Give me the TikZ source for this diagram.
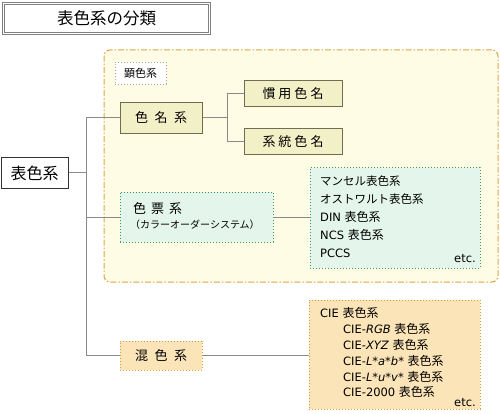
\documentclass[tikz,border=0pt]{standalone}
\usepackage{fontspec}
\setmainfont{DejaVu Sans}
\newfontfamily\jp{Noto Sans CJK JP}
\definecolor{linegray}{HTML}{8A8A8A}
\definecolor{regfill}{HTML}{FEFCE5}
\definecolor{regdraw}{HTML}{D9A648}
\definecolor{cmfill}{HTML}{F2F0C6}
\definecolor{cmdraw}{HTML}{6F6C52}
\definecolor{grfill}{HTML}{E4F5EB}
\definecolor{grdraw}{HTML}{3D9A62}
\definecolor{orfill}{HTML}{FBE4B8}
\definecolor{ordraw}{HTML}{D69E3C}
\newcommand{\jpt}[1]{{\jp\fontsize{12}{13}\selectfont #1}}
\begin{document}
\begin{tikzpicture}[x=1pt,y=-1pt,
  box/.style={rectangle,inner sep=0pt,line width=1pt},
  conn/.style={draw=linegray,line width=1pt},
  txt/.style={inner sep=0pt,font=\fontsize{11.5}{13}\selectfont},
  jtxt/.style={inner sep=0pt,font=\jp\fontsize{11.5}{13}\selectfont}]
\useasboundingbox (0,0) rectangle (500,414);
% title
\node[box,draw=gray,double=white,double distance=1.2pt,line width=1pt,minimum width=206pt,minimum height=30pt,font=\jp\fontsize{16.5}{18}\selectfont] (title) at (106.5,18.5) {表色系の分類};
% region
\node[box,draw=regdraw,fill=regfill,dash pattern=on 6pt off 2pt on 1.5pt off 2pt,rounded corners=6pt,minimum width=394pt,minimum height=232pt] (region) at (301,166) {};
\node[box,draw=gray!70,dotted,fill=white,line width=0.8pt,minimum width=51pt,minimum height=22pt,font=\jp\fontsize{11}{12}\selectfont] (kenshoku) at (140.5,73) {顕色系};
% nodes
\node[box,draw=black!80,fill=white,minimum width=67pt,minimum height=30pt,font=\jp\fontsize{16}{18}\selectfont] (root) at (34.5,173) {表色系};
\node[box,draw=cmdraw,fill=cmfill,minimum width=82pt,minimum height=31pt,font=\jp\fontsize{13}{15}\selectfont] (cm) at (161,118) {色\hspace{6.5pt}名\hspace{6.5pt}系};
\node[box,draw=cmdraw,fill=cmfill,minimum width=98pt,minimum height=26pt,font=\jp\fontsize{13}{15}\selectfont] (kanyo) at (293,94) {慣\hspace{3pt}用\hspace{3pt}色\hspace{3pt}名};
\node[box,draw=cmdraw,fill=cmfill,minimum width=98pt,minimum height=26pt,font=\jp\fontsize{13}{15}\selectfont] (keito) at (293,142) {系\hspace{3pt}統\hspace{3pt}色\hspace{3pt}名};
\node[box,draw=grdraw,dotted,fill=grfill,minimum width=153pt,minimum height=50pt] (shp) at (196.5,217) {};
\node[anchor=west,inner sep=0pt,font=\jp\fontsize{13}{15}\selectfont] (shpa) at (133,209) {色\hspace{5pt}票\hspace{5pt}系};
\node[anchor=west,inner sep=0pt,font=\jp\fontsize{10}{12}\selectfont] (shpb) at (130,225) {（カラーオーダーシステム）};
\node[box,draw=grdraw,dotted,fill=grfill,minimum width=170pt,minimum height=100pt] (glist) at (395,218) {};
\node[box,draw=ordraw,dotted,fill=orfill,minimum width=82pt,minimum height=29pt,font=\jp\fontsize{13}{15}\selectfont] (mix) at (161,355.5) {混\hspace{6.5pt}色\hspace{6.5pt}系};
\node[box,draw=ordraw,dotted,fill=orfill,minimum width=171pt,minimum height=109pt] (clist) at (394.5,354.5) {};
% green list text
\node[jtxt,anchor=west] (g1) at (320,181) {マンセル表色系};
\node[jtxt,anchor=west] (g2) at (320,199) {オストワルト表色系};
\node[txt,anchor=west] (g3) at (320,217) {DIN \jpt{表色系}};
\node[txt,anchor=west] (g4) at (320,235) {NCS \jpt{表色系}};
\node[txt,anchor=west] (g5) at (320,253) {PCCS};
\node[txt,anchor=east] (g6) at (476,259) {etc.};
% CIE list text
\node[txt,anchor=west] (c1) at (320,313) {CIE \jpt{表色系}};
\node[txt,anchor=west] (c2) at (343,329) {CIE-\textit{RGB} \jpt{表色系}};
\node[txt,anchor=west] (c3) at (343,345) {CIE-\textit{XYZ} \jpt{表色系}};
\node[txt,anchor=west] (c4) at (343,361) {CIE-\textit{L*a*b*} \jpt{表色系}};
\node[txt,anchor=west] (c5) at (343,377) {CIE-\textit{L*u*v*} \jpt{表色系}};
\node[txt,anchor=west] (c6) at (343,392) {CIE-2000 \jpt{表色系}};
\node[txt,anchor=east] (c7) at (476,403) {etc.};
% connectors
\coordinate (j1) at (86,118);
\coordinate (j3) at (86,355.5);
\coordinate (k1) at (227,118);
\draw[conn] (j1) -- (j3);
\draw[conn] (root.east) -- (root.east -| j1);
\draw[conn] (j1) -- (cm.west);
\draw[conn] (shp.west -| j1) -- (shp.west);
\draw[conn] (j3) -- (mix.west);
\draw[conn] (cm.east) -- (k1);
\draw[conn] (k1) |- (kanyo.west);
\draw[conn] (k1) |- (keito.west);
\draw[conn] (shp.east) -- (shp.east -| glist.west);
\draw[conn] (mix.east) -- (mix.east -| clist.west);
\end{tikzpicture}
\end{document}
